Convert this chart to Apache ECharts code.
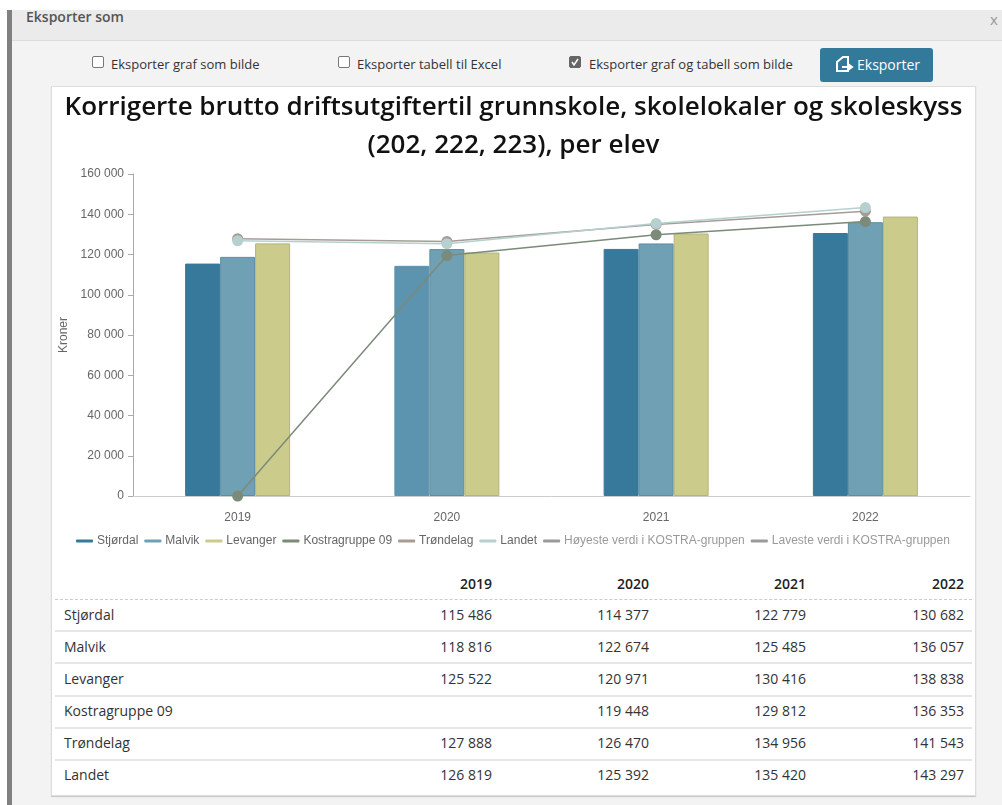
<!DOCTYPE html>
<html><head><meta charset="utf-8">
<script src="https://cdn.jsdelivr.net/npm/echarts@6/dist/echarts.min.js"></script>
<style>
html,body{margin:0;padding:0;background:#fff;overflow:hidden}
body{width:1002px;height:805px;position:relative;font-family:"Open Sans",sans-serif;color:#333}
.a{position:absolute}
.opt{font-size:13px;top:55px;line-height:18px;color:#333;white-space:nowrap}
.cb{position:absolute;width:10px;height:10px;border:1px solid #777;border-radius:2px;background:#fff;top:56px}
#tbl div{position:absolute;font-size:14px;line-height:20px;white-space:nowrap;color:#333}
.r{text-align:right;width:120px}
.ln{left:55px;width:917px;height:2px;background:#e6e6e6}
</style></head><body>
<div class="a" style="left:12px;top:10px;width:990px;height:795px;background:#f3f3f3"></div>
<div class="a" style="left:7px;top:10px;width:5px;height:795px;background:#808080"></div>
<div class="a" style="left:12px;top:10px;width:990px;height:30px;background:#ebebeb;border-bottom:1px solid #ddd"></div>
<div class="a" style="left:26px;top:7px;font-size:14px;line-height:20px;color:#555;font-weight:600">Eksporter som</div>
<div class="a" style="left:990px;top:10px;font-size:15px;line-height:18px;color:#999">x</div>
<div class="cb" style="left:92px"></div><div class="a opt" style="left:111px">Eksporter graf som bilde</div>
<div class="cb" style="left:338px"></div><div class="a opt" style="left:357px">Eksporter tabell til Excel</div>
<div class="cb" style="left:569px;background:#666;border-color:#666"><svg width="10" height="10" style="display:block"><path d="M2 5l2 3 4-6" stroke="#fff" stroke-width="1.5" fill="none"/></svg></div><div class="a opt" style="left:589px">Eksporter graf og tabell som bilde</div>
<div class="a" style="left:820px;top:48px;width:113px;height:34px;background:#337a9a;border-radius:3px"></div>
<svg class="a" style="left:834px;top:55px" width="20" height="21"><path d="M9 2h5v14H3V7z" fill="none" stroke="#fff" stroke-width="2"/><path d="M8 12h9M14 9l4 3-4 3" fill="none" stroke="#fff" stroke-width="2"/></svg>
<div class="a" style="left:857px;top:55px;font-size:14px;line-height:19px;color:#fff">Eksporter</div>
<div class="a" style="left:51px;top:86px;width:925px;height:710px;background:#fff;border:1px solid #ddd;box-sizing:border-box;box-shadow:0 1px 1px #ccc"></div>
<div id="chart" class="a" style="left:52px;top:87px;width:923px;height:470px"></div>
<div id="tbl"></div>
<script>
const years = ['2019','2020','2021','2022'];
const stjordal = [115486,114377,122779,130682];
const malvik = [118816,122674,125485,136057];
const levanger = [125522,120971,130416,138838];
const kostra = [null,119448,129812,136353];
const trondelag = [127888,126470,134956,141543];
const landet = [126819,125392,135420,143297];
const hoyeste = [];
const laveste = [];
const yTicks = {min:0,max:160000,interval:20000};
const fmt = v => String(v).replace(/\B(?=(\d{3})+$)/g,' ');
const bar = (name,data,color,border) => ({name,type:'bar',data,barWidth:35,barGap:0,
  itemStyle:{color,borderColor:border,borderWidth:1}});
const line = (name,data,color) => ({name,type:'line',data,symbol:'circle',symbolSize:11,z:5,
  lineStyle:{color,width:1.5},itemStyle:{color}});
const stjData = stjordal.map((v,i)=> i===1 ? {value:v,itemStyle:{color:'#5c93ae',borderColor:'#5c93ae'}} : v);
const chart = echarts.init(document.getElementById('chart'));
chart.setOption({
  animation:false,
  textStyle:{fontFamily:'"Liberation Sans",Arial,sans-serif'},
  title:{text:'Korrigerte brutto driftsutgiftertil grunnskole, skolelokaler og skoleskyss\n(202, 222, 223), per elev',
    left:'center',top:-3,textStyle:{fontFamily:'"Open Sans",sans-serif',fontSize:26,fontWeight:600,color:'#111',lineHeight:38}},
  grid:{left:81,top:87,width:837,height:322,outerBoundsMode:'none'},
  legend:{left:19,top:443,itemWidth:17,itemHeight:3,itemGap:6,icon:'roundRect',
    itemStyle:{borderWidth:0},
    textStyle:{fontSize:12,color:'#666',padding:[0,0,0,-1]},inactiveColor:'#9a9a9a',inactiveBorderWidth:0,
    selected:{'Høyeste verdi i KOSTRA-gruppen':false,'Laveste verdi i KOSTRA-gruppen':false},
    data:['Stjørdal','Malvik','Levanger','Kostragruppe 09','Trøndelag','Landet','Høyeste verdi i KOSTRA-gruppen','Laveste verdi i KOSTRA-gruppen']},
  xAxis:{type:'category',data:years,axisLine:{lineStyle:{color:'#ccc'}},axisTick:{alignWithLabel:false,lineStyle:{color:'#ccc'}},
    axisLabel:{color:'#666',fontSize:12,margin:16}},
  yAxis:{type:'value',...yTicks,name:'Kroner',nameLocation:'middle',nameGap:63,nameRotate:90,nameTextStyle:{color:'#666',fontSize:12},
    splitLine:{show:false},axisLine:{show:true,lineStyle:{color:'#aaa'}},axisTick:{show:true,length:5,lineStyle:{color:'#aaa'}},
    axisLabel:{color:'#666',fontSize:12,margin:9,formatter:fmt}},
  series:[
    bar('Stjørdal',stjData,'#37799a','#37799a'),
    bar('Malvik',malvik,'#70a0b4','#5b8da3'),
    bar('Levanger',levanger,'#cbcc8c','#b3b477'),
    line('Kostragruppe 09',kostra.map(v=>v===null?0:v),'#7b8a79'),
    line('Trøndelag',trondelag,'#a59c96'),
    line('Landet',landet,'#b6d0cf'),
    line('Høyeste verdi i KOSTRA-gruppen',hoyeste,'#999'),
    line('Laveste verdi i KOSTRA-gruppen',laveste,'#999')
  ]
});
const rows = [['Stjørdal',stjordal],['Malvik',malvik],['Levanger',levanger],['Kostragruppe 09',kostra],['Trøndelag',trondelag],['Landet',landet]];
const rowY = [615,647,679,711,743,775];
const lineY = [630,662,695,727,759];
const colR = [492,649,806,964];
let h='';
years.forEach((y,i)=>{h+=`<div class="r" style="left:${colR[i]-120}px;top:574px;font-weight:600;color:#222">${y}</div>`;});
h+='<div class="a" style="left:55px;top:599px;width:917px;border-top:1px dashed #ccc;position:absolute"></div>';
rows.forEach((r,j)=>{
  h+=`<div style="left:64px;top:${rowY[j]-10}px">${r[0]}</div>`;
  r[1].forEach((v,i)=>{ if(v!==null) h+=`<div class="r" style="left:${colR[i]-120}px;top:${rowY[j]-10}px">${fmt(v)}</div>`;});
});
lineY.forEach(y=>{h+=`<div class="ln" style="top:${y}px"></div>`;});
document.getElementById('tbl').innerHTML=h;
</script>
</body></html>
